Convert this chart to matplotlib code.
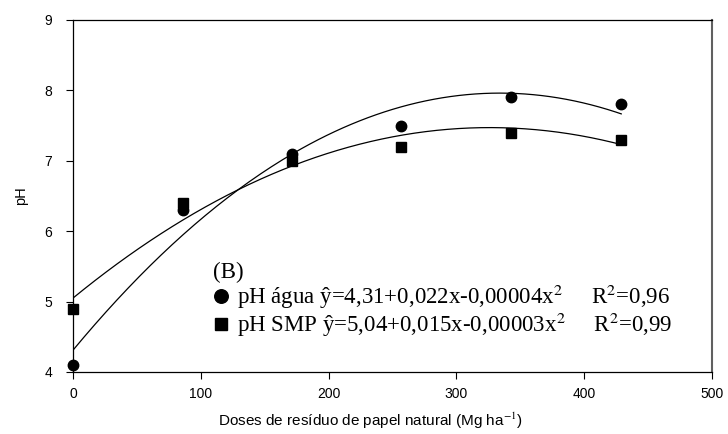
import numpy as np
import matplotlib
matplotlib.use('Agg')
import matplotlib.pyplot as plt

# doses (Mg/ha) and measured pH
doses = [0, 86, 171, 257, 343, 429]
ph_agua = [4.1, 6.3, 7.1, 7.5, 7.9, 7.8]
ph_smp = [4.9, 6.4, 7.0, 7.2, 7.4, 7.3]

# quadratic fits as drawn (a, b, c)
fit_agua = [4.31, 0.02186, -0.00003272]
fit_smp = [5.05, 0.01485, -0.00002277]

label_agua = r'pH água ŷ=4,31+0,022x-0,00004x$^2$     R$^2$=0,96'
label_smp = r'pH SMP ŷ=5,04+0,015x-0,00003x$^2$     R$^2$=0,99'

plt.rcParams['font.family'] = ['Liberation Sans', 'DejaVu Sans']
plt.rcParams['mathtext.fontset'] = 'stix'

fig = plt.figure(figsize=(7.28, 4.34), dpi=100)
ax = fig.add_axes([0.1003, 0.1429, 0.8777, 0.8111])

xs = np.linspace(doses[0], doses[-1], 200)
for a, b, c in (fit_agua, fit_smp):
    ax.plot(xs, a + b * xs + c * xs ** 2, color='black', lw=0.9)

h1, = ax.plot(doses, ph_agua, 'o', color='black', ms=7.5, clip_on=False, zorder=3)
h2, = ax.plot(doses, ph_smp, 's', color='black', ms=6.5, clip_on=False, zorder=3)

ax.set_xlim(0, 500)
ax.set_ylim(4, 9)
ax.set_xticks(range(0, 501, 100))
ax.set_yticks(range(4, 10))
ax.tick_params(direction='out', length=5, width=0.8, labelsize=10, pad=6)
ax.tick_params(axis='y', pad=10)

ax.spines['right'].set_color('#606060')
ax.spines['right'].set_linewidth(1.5)
for s in ('left', 'top', 'bottom'):
    ax.spines[s].set_linewidth(0.9)

ax.set_xlabel('Doses de resíduo de papel natural (Mg ha$^{-1}$)', fontsize=11, labelpad=7, x=0.466)
ax.set_ylabel('pH', fontsize=10.5, labelpad=12)

leg = ax.legend([h1, h2], [label_agua, label_smp], title='(B)',
                loc='lower left', bbox_to_anchor=(0.205, 0.067),
                frameon=False, handlelength=0.7, handletextpad=0.35,
                labelspacing=0.0, borderaxespad=0, alignment='left',
                markerscale=1.3,
                prop={'family': 'Liberation Serif', 'size': 16.5},
                title_fontproperties={'family': 'Liberation Serif', 'size': 16.5})

fig.savefig('out.png', dpi=100)
